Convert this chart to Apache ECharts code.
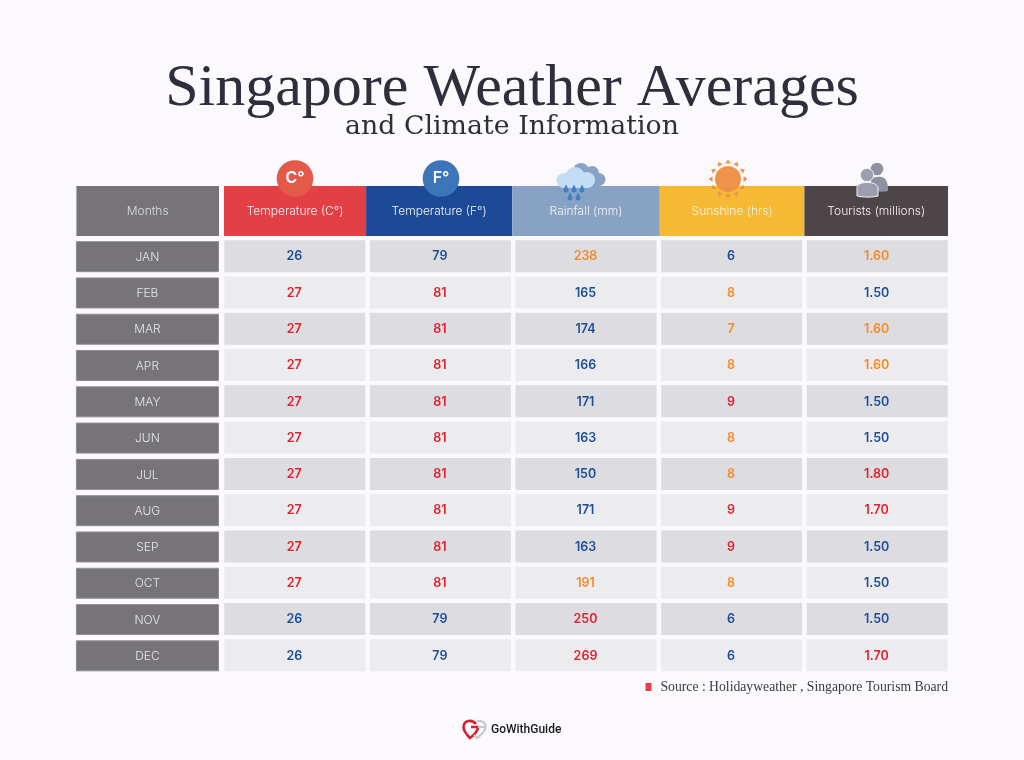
<!DOCTYPE html>
<html>
<head>
<meta charset="utf-8">
<title>Singapore Weather Averages</title>
<style>
  html, body { margin: 0; padding: 0; background: #fbf9fd; }
  #chart { width: 1024px; height: 760px; }
</style>
<script src="https://cdn.jsdelivr.net/npm/echarts@6/dist/echarts.min.js"></script>
</head>
<body>
<div id="chart"></div>
<script>
var months = ['JAN', 'FEB', 'MAR', 'APR', 'MAY', 'JUN', 'JUL', 'AUG', 'SEP', 'OCT', 'NOV', 'DEC'];
var columns = ['Months', 'Temperature (C°)', 'Temperature (F°)', 'Rainfall (mm)', 'Sunshine (hrs)', 'Tourists (millions)'];
var tempC = [26, 27, 27, 27, 27, 27, 27, 27, 27, 27, 26, 26];
var tempF = [79, 81, 81, 81, 81, 81, 81, 81, 81, 81, 79, 79];
var rainfall = [238, 165, 174, 166, 171, 163, 150, 171, 163, 191, 250, 269];
var sunshine = [6, 8, 7, 8, 9, 8, 8, 9, 9, 8, 6, 6];
var tourists = [1.6, 1.5, 1.6, 1.6, 1.5, 1.5, 1.8, 1.7, 1.5, 1.5, 1.5, 1.7];
// value at which a column turns orange, then red
var orangeFrom = [27, 81, 190, 7, 1.6];
var redFrom = [27, 81, 250, 9, 1.7];

var valueCols = [tempC, tempF, rainfall, sunshine, tourists];
var headerColors = ['#767477', '#e34046', '#1c4a96', '#87a2c3', '#f6b933', '#4e4548'];
var SANS = 'Inter, Roboto, sans-serif';
var SERIF = '"Liberation Serif", serif';
var BLUE = '#1c4d98', RED = '#e21f2b', ORANGE = '#f78a23';

function valueColor(col, v) {
  if (v >= redFrom[col]) return RED;
  if (v >= orangeFrom[col]) return ORANGE;
  return BLUE;
}

function cellText(x, y, text, fill, font) {
  return {
    type: 'text',
    style: { text: text, x: x, y: y, align: 'center', verticalAlign: 'middle', fill: fill, font: font }
  };
}

var headerData = columns.map(function (c, i) { return [i, 0]; });
var monthData = months.map(function (m, i) { return [0, i]; });
var bodyData = [];
valueCols.forEach(function (vals, c) {
  vals.forEach(function (v, r) { bodyData.push([c + 1, r]); });
});

function renderHeader(params, api) {
  var col = api.value(0);
  var p = api.coord([col, 0]);
  var s = api.size([1, 1]);
  var x0 = p[0] - s[0] / 2, x1 = p[0] + s[0] / 2;
  if (col === 0) { x1 -= 3; }
  if (col === 1) { x0 += 2; x1 -= 1.5; }
  if (col === 2) { x0 -= 1.5; x1 -= 1; }
  if (col === 3) { x0 -= 1; x1 += 1; }
  if (col === 4) { x0 += 1; }
  if (col === 5) { x1 -= 2; }
  return {
    type: 'group',
    children: [
      {
        type: 'rect',
        shape: { x: x0, y: p[1] - s[1] / 2, width: x1 - x0, height: s[1] },
        style: { fill: headerColors[col] }
      },
      cellText((x0 + x1) / 2, p[1] + 0.5, columns[col], col === 0 ? '#dcdbde' : '#f4f2f4', '300 12px ' + SANS)
    ]
  };
}

function renderMonth(params, api) {
  var p = api.coord([0, api.value(1)]);
  var s = api.size([1, 1]);
  var x0 = p[0] - s[0] / 2;
  return {
    type: 'group',
    children: [
      {
        type: 'rect',
        shape: { x: x0, y: p[1] - 15, width: s[0] - 3.5, height: 30 },
        style: { fill: '#767477', stroke: '#908e91', lineWidth: 1 }
      },
      cellText(x0 + 71, p[1] + 0.5, months[api.value(1)], '#e6e5e7', '300 12px ' + SANS)
    ]
  };
}

function renderBody(params, api) {
  var col = api.value(0), row = api.value(1);
  var p = api.coord([col, row]);
  var v = valueCols[col - 1][row];
  var label = col === 5 ? v.toFixed(2) : String(v);
  return {
    type: 'group',
    children: [
      {
        type: 'rect',
        shape: { x: p[0] - 70.5, y: p[1] - 16.5, width: 141, height: 32 },
        style: { fill: row % 2 === 0 ? '#dcdce1' : '#ecebee' }
      },
      cellText(p[0] - 0.5, p[1], label, valueColor(col - 1, v), '600 12.5px ' + SANS)
    ]
  };
}

// header icons and logo, these are decoration only
function circle(cx, cy, r, fill, stroke) {
  return { type: 'circle', shape: { cx: cx, cy: cy, r: r }, style: { fill: fill, stroke: stroke, lineWidth: stroke ? 1 : 0 } };
}

function drawn(d, style) {
  return { type: 'path', shape: { pathData: d }, style: style };
}

function renderIcons() {
  var el = [
    circle(295, 178.5, 18.3, '#e35a4b'),
    cellText(295, 178, 'C°', '#fff', '600 16px ' + SANS),
    circle(441, 178.5, 18.3, '#3c76b8'),
    cellText(441, 178, 'F°', '#fff', '600 16px ' + SANS),

    // cloud behind
    circle(581, 171, 8, '#87a2c3'),
    circle(592, 173, 7, '#87a2c3'),
    circle(599, 179.5, 6.5, '#87a2c3'),
    { type: 'rect', shape: { x: 578, y: 173, width: 21, height: 13 }, style: { fill: '#87a2c3' } },
    // cloud in front
    circle(575, 177, 10, '#c4ddf6'),
    circle(564, 180.5, 7.5, '#c4ddf6'),
    circle(587, 180, 8, '#c4ddf6'),
    { type: 'rect', shape: { x: 564, y: 178, width: 25, height: 10 }, style: { fill: '#c4ddf6' } }
  ];

  [[566, 189], [574, 189], [582, 189], [570, 197], [578, 197]].forEach(function (d) {
    el.push(drawn('M' + d[0] + ',' + (d[1] - 4.5) + ' l2.2,4.6 a2.4,2.4 0 1 1 -4.4,0 Z', { fill: '#3f7fc0' }));
  });

  el.push(circle(728, 179, 13, '#f0934a'));
  for (var i = 0; i < 12; i++) {
    var a = i * Math.PI / 6;
    el.push({
      type: 'polygon',
      shape: {
        points: [
          [728 + 15.5 * Math.sin(a) - 3 * Math.cos(a), 179 - 15.5 * Math.cos(a) - 3 * Math.sin(a)],
          [728 + 15.5 * Math.sin(a) + 3 * Math.cos(a), 179 - 15.5 * Math.cos(a) + 3 * Math.sin(a)],
          [728 + 19.5 * Math.sin(a), 179 - 19.5 * Math.cos(a)]
        ]
      },
      style: { fill: '#f0934a' }
    });
  }

  // two tourists, the back one first
  el.push(
    drawn('M871,190 L871,180 C873,176.5 881,176 884,178 C887,180 888,184 888,191 C884,192 876,192 871,190 Z', { fill: '#8f91a3' }),
    circle(877, 169, 6.3, '#8f91a3'),
    drawn('M857,196 L857,188 C857,184 862,182.5 867,182.5 C872,182.5 878,184 878,188 L878,196 C872,197.5 863,197.5 857,196 Z', { fill: '#9c9eaf', stroke: '#f2f1f4', lineWidth: 1 }),
    circle(867, 175, 6.6, '#9c9eaf', '#f2f1f4')
  );

  // source marker
  el.push({ type: 'rect', shape: { x: 645.5, y: 683, width: 6, height: 8 }, style: { fill: '#e34046' } });

  // logo
  el.push(
    drawn('M476,724 C472,719 464,720 463.5,727 C463.5,731 467,735 470,738 C474,735 478,731 478,727 L471,727', { fill: 'none', stroke: '#d81f2d', lineWidth: 2.6 }),
    drawn('M477,721 C482,720 486,723 485.5,727 C485.5,731 481,735 477,738 L474,735 M485,727 L478,727', { fill: 'none', stroke: '#c9c8ca', lineWidth: 2.2 }),
    {
      type: 'text',
      style: { text: 'GoWithGuide', x: 491, y: 729.5, align: 'left', verticalAlign: 'middle', fill: '#1a1a1c', font: '500 12px Roboto, sans-serif' }
    }
  );
  return { type: 'group', children: el };
}

var chart = echarts.init(document.getElementById('chart'), null, { renderer: 'canvas' });

chart.setOption({
  backgroundColor: '#fbf9fd',
  animation: false,
  title: [
    {
      text: 'Singapore Weather Averages',
      left: 'center', top: 54,
      textStyle: { fontFamily: SERIF, fontSize: 60, fontWeight: 'normal', color: '#2f2e3c' }
    },
    {
      text: 'and Climate Information',
      left: 'center', top: 109,
      textStyle: { fontFamily: '"DejaVu Serif", serif', fontSize: 26.8, fontWeight: 'normal', color: '#2f2e3c' }
    },
    {
      text: 'Source : Holidayweather , Singapore Tourism Board',
      right: 71, top: 675,
      textStyle: { fontFamily: SERIF, fontSize: 13.7, fontWeight: 'normal', color: '#3a3a44' }
    }
  ],
  grid: [
    { left: 76.4, top: 186, width: 873.6, height: 50 },
    { left: 76.4, top: 238.5, width: 873.6, height: 435.5 }
  ],
  xAxis: [
    { gridIndex: 0, type: 'category', data: columns, show: false },
    { gridIndex: 1, type: 'category', data: columns, show: false }
  ],
  yAxis: [
    { gridIndex: 0, type: 'category', data: ['header'], show: false },
    { gridIndex: 1, type: 'category', data: months, inverse: true, show: false }
  ],
  series: [
    { type: 'custom', name: 'header', xAxisIndex: 0, yAxisIndex: 0, renderItem: renderHeader, data: headerData, silent: true, clip: false },
    { type: 'custom', name: 'months', xAxisIndex: 1, yAxisIndex: 1, renderItem: renderMonth, data: monthData, silent: true, clip: false },
    { type: 'custom', name: 'values', xAxisIndex: 1, yAxisIndex: 1, renderItem: renderBody, data: bodyData, silent: true, clip: false },
    { type: 'custom', name: 'icons', coordinateSystem: 'none', renderItem: renderIcons, data: [0], silent: true, z: 10 }
  ]
});
</script>
</body>
</html>
